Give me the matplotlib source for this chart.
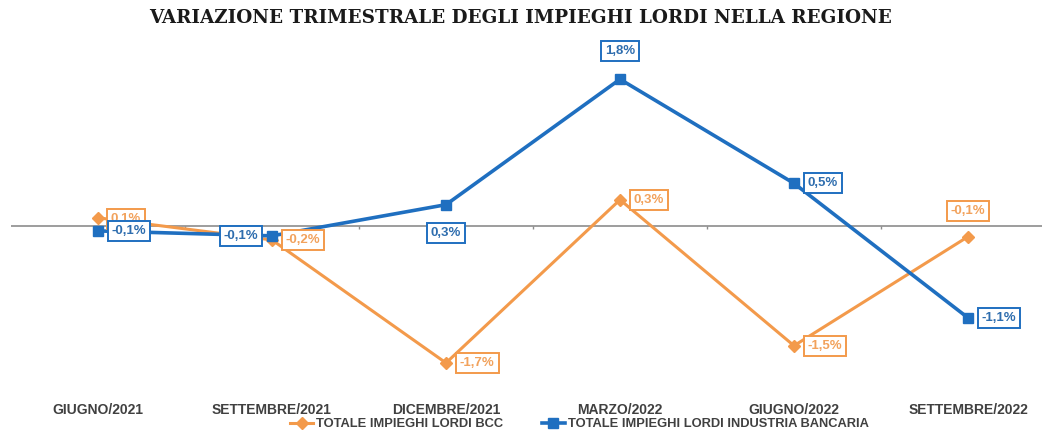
#!/usr/bin/env python3
"""Quarterly change of gross loans in the region (BCC vs banking industry)."""

import matplotlib

matplotlib.use("Agg")
import matplotlib.pyplot as plt
import numpy as np

CATEGORIES = [
    "GIUGNO/2021",
    "SETTEMBRE/2021",
    "DICEMBRE/2021",
    "MARZO/2022",
    "GIUGNO/2022",
    "SETTEMBRE/2022",
]
BCC = [0.10, -0.17, -1.67, 0.32, -1.46, -0.13]
INDUSTRIA = [-0.06, -0.12, 0.26, 1.79, 0.52, -1.12]

SERIES_NAMES = ["TOTALE IMPIEGHI LORDI BCC", "TOTALE IMPIEGHI LORDI INDUSTRIA BANCARIA"]

ORANGE = "#F39A4B"
ORANGE_TXT = "#F2A25C"
BLUE = "#1F6FC0"
BLUE_TXT = "#2E6DAE"

# label placement per point: offset in points and alignment
BCC_POS = [("r", 9, -1), ("r", 10, 0), ("r", 10, 0), ("r", 10, 0), ("r", 10, 0), ("u", 0, 14)]
IND_POS = [("r", 10, 0), ("l", -10, 0), ("d", 0, -16), ("u", 0, 16), ("r", 10, 0), ("r", 10, 0)]

LABEL_FONT = ["Liberation Sans Narrow", "Liberation Sans", "DejaVu Sans"]


def fmt(v: float) -> str:
    return f"{v:.1f}%".replace(".", ",")


def add_labels(ax, values, positions, edge, text_color, z):
    for i, (v, (kind, dx, dy)) in enumerate(zip(values, positions)):
        ha = {"r": "left", "l": "right", "u": "center", "d": "center"}[kind]
        va = {"r": "center", "l": "center", "u": "bottom", "d": "top"}[kind]
        ax.annotate(
            fmt(v),
            (i, v),
            xytext=(dx, dy),
            textcoords="offset points",
            ha=ha,
            va=va,
            fontsize=9.5,
            fontweight="bold",
            family=LABEL_FONT,
            color=text_color,
            bbox=dict(boxstyle="square,pad=0.3", fc="white", ec=edge, lw=1.4),
            zorder=z,
        )


def main() -> int:
    fig = plt.figure(figsize=(10.42, 4.34), dpi=100, facecolor="white")
    W, H = 1042, 434
    top_px, bottom_px, left_px = 45, 395, 11
    ax = fig.add_axes([left_px / W, 1 - bottom_px / H, 1044 / W, (bottom_px - top_px) / H])
    ax.set_facecolor("white")

    x = np.arange(len(CATEGORIES))
    zero_px, scale = 226, 82.0
    ax.set_ylim(-(bottom_px - zero_px) / scale, (zero_px - top_px) / scale)
    ax.set_xlim(-0.5, len(CATEGORIES) - 0.5)

    ax.axhline(0, color="#8C8C8C", lw=1.2, zorder=1)
    ax.vlines(x[1:] - 0.5, -0.04, 0, color="#8C8C8C", lw=1.0, zorder=1)

    ax.plot(x, BCC, color=ORANGE, lw=2.2, marker="D", ms=6.5, mec=ORANGE, mfc=ORANGE,
            label=SERIES_NAMES[0], zorder=3)
    ax.plot(x, INDUSTRIA, color=BLUE, lw=2.6, marker="s", ms=7.5, mec=BLUE, mfc=BLUE,
            label=SERIES_NAMES[1], zorder=4)

    add_labels(ax, BCC, BCC_POS, ORANGE, ORANGE_TXT, 5)
    add_labels(ax, INDUSTRIA, IND_POS, BLUE, BLUE_TXT, 6)

    ax.set_xticks(x, CATEGORIES)
    for lab in ax.get_xticklabels():
        lab.set_family(LABEL_FONT)
        lab.set_fontweight("bold")
        lab.set_fontsize(10)
        lab.set_color("#404040")
    ax.tick_params(axis="x", length=0, pad=6)
    ax.set_yticks([])
    for s in ax.spines.values():
        s.set_visible(False)

    fig.legend(
        loc="center",
        bbox_to_anchor=(0.556, 1 - 424 / H),
        ncol=2,
        frameon=False,
        prop=dict(family=LABEL_FONT, weight="bold", size=9.3),
        labelcolor="#404040",
        handlelength=1.8,
        columnspacing=3.0,
        handletextpad=0.2,
    )

    fig.text(0.5, 1 - 18 / H, "VARIAZIONE TRIMESTRALE DEGLI IMPIEGHI LORDI NELLA REGIONE",
             ha="center", va="center", fontsize=13.2, fontweight="bold",
             family=["DejaVu Serif"], color="#1A1A1A")

    fig.savefig("out.png", dpi=100, facecolor="white")
    plt.close(fig)
    return 0


if __name__ == "__main__":
    raise SystemExit(main())
